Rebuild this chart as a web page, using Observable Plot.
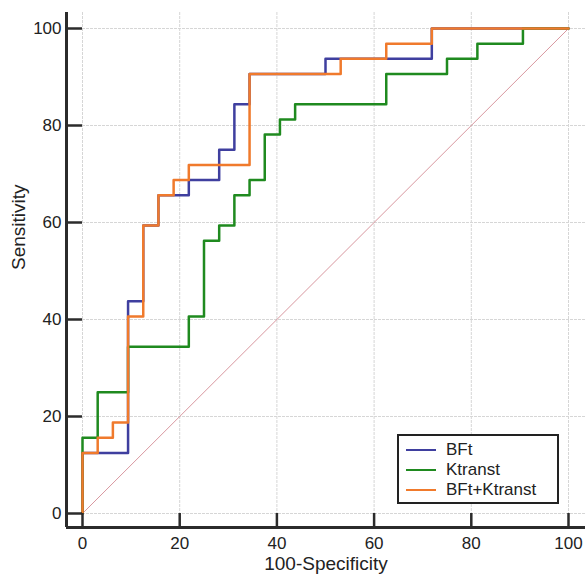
<!DOCTYPE html>
<html>
<head>
<meta charset="utf-8">
<script src="https://cdn.jsdelivr.net/npm/d3@7"></script>
<script src="https://cdn.jsdelivr.net/npm/@observablehq/plot@0.6"></script>
<style>
  html, body { margin: 0; padding: 0; background: #fff; }
  #wrap { position: relative; width: 585px; height: 578px; font-family: "Liberation Sans", Arial, sans-serif; }
  #legend { position: absolute; left: 397px; top: 434px; width: 158px; height: 66px; border: 2px solid #222; background: #fff; }
  .row { position: absolute; left: 0; height: 20px; display: flex; align-items: center; font-size: 17px; color: #222; }
  .sw { width: 30px; height: 0; border-top: 2.5px solid; margin-left: 7px; margin-right: 10px; }
</style>
</head>
<body>
<div id="wrap"></div>
<script>
// Tick labels
const xTicks = [0, 20, 40, 60, 80, 100];
const yTicks = [0, 20, 40, 60, 80, 100];

// Series names and colours
const seriesNames = ["BFt", "Ktranst", "BFt+Ktranst"];
const seriesColors = ["#3f3f9f", "#1f8a1f", "#f07a2c"];

// BFt: 100-Specificity / Sensitivity
const bftX = [0, 0, 9.375, 9.375, 12.5, 12.5, 15.625, 15.625, 21.875, 21.875, 28.125, 28.125, 31.25, 31.25, 34.375, 34.375, 50, 50, 71.875, 71.875, 100];
const bftY = [0, 12.5, 12.5, 43.75, 43.75, 59.375, 59.375, 65.625, 65.625, 68.75, 68.75, 75, 75, 84.375, 84.375, 90.625, 90.625, 93.75, 93.75, 100, 100];

// Ktranst
const ktX = [0, 0, 3.125, 3.125, 9.375, 9.375, 21.875, 21.875, 25, 25, 28.125, 28.125, 31.25, 31.25, 34.375, 34.375, 37.5, 37.5, 40.625, 40.625, 43.75, 43.75, 62.5, 62.5, 75, 75, 81.25, 81.25, 90.625, 90.625, 100];
const ktY = [0, 15.625, 15.625, 25, 25, 34.375, 34.375, 40.625, 40.625, 56.25, 56.25, 59.375, 59.375, 65.625, 65.625, 68.75, 68.75, 78.125, 78.125, 81.25, 81.25, 84.375, 84.375, 90.625, 90.625, 93.75, 93.75, 96.875, 96.875, 100, 100];

// BFt+Ktranst
const combX = [0, 0, 3.125, 3.125, 6.25, 6.25, 9.375, 9.375, 12.5, 12.5, 15.625, 15.625, 18.75, 18.75, 21.875, 21.875, 34.375, 34.375, 53.125, 53.125, 62.5, 62.5, 71.875, 71.875, 100];
const combY = [0, 12.5, 12.5, 15.625, 15.625, 18.75, 18.75, 40.625, 40.625, 59.375, 59.375, 65.625, 65.625, 68.75, 68.75, 71.875, 71.875, 90.625, 90.625, 93.75, 93.75, 96.875, 96.875, 100, 100];

// Reference diagonal
const diagX = [0, 100];
const diagY = [0, 100];

const toPts = (xs, ys) => xs.map((x, i) => ({x, y: ys[i]}));
const bft = toPts(bftX, bftY);
const kt = toPts(ktX, ktY);
const comb = toPts(combX, combY);
const diag = toPts(diagX, diagY);

const W = 585, H = 578;
const mL = 66, mR = 0, mT = 12, mB = 51;
const innerW = W - mL - mR, innerH = H - mT - mB;
const axisColor = "#2b2b2b";

const chart = Plot.plot({
  width: W,
  height: H,
  marginLeft: mL,
  marginRight: mR,
  marginTop: mT,
  marginBottom: mB,
  style: { fontFamily: "'Liberation Sans', Arial, sans-serif", background: "#fff", color: "#222" },
  x: { domain: [0, 100], insetLeft: 16, insetRight: 17 },
  y: { domain: [0, 100], insetTop: 16, insetBottom: 14 },
  marks: [
    Plot.gridX(xTicks, { stroke: "#d6d6d6", strokeOpacity: 1, strokeDasharray: "3,1" }),
    Plot.gridY(yTicks, { stroke: "#d6d6d6", strokeOpacity: 1, strokeDasharray: "3,1" }),
    Plot.line(diag, { x: "x", y: "y", stroke: "#d8979f", strokeWidth: 1 }),
    Plot.line(bft, { x: "x", y: "y", stroke: seriesColors[0], strokeWidth: 2.5 }),
    Plot.line(kt, { x: "x", y: "y", stroke: seriesColors[1], strokeWidth: 2.5 }),
    Plot.line(comb, { x: "x", y: "y", stroke: seriesColors[2], strokeWidth: 2.5 }),
    // inward ticks
    Plot.ruleX(xTicks, { x: d => d, stroke: axisColor, strokeWidth: 2.5, insetTop: innerH - 14 }),
    Plot.ruleY(yTicks, { y: d => d, stroke: axisColor, strokeWidth: 2.5, insetRight: innerW - 16 }),
    // axis lines
    Plot.ruleX([0], { x: d => d, dx: -16, stroke: axisColor, strokeWidth: 3 }),
    Plot.ruleY([0], { y: d => d, dy: 14, stroke: axisColor, strokeWidth: 3 }),
    Plot.axisX(xTicks, { tickSize: 0, tickPadding: 9, fontSize: 17, label: null, fill: "#222" }),
    Plot.axisY(yTicks, { tickSize: 0, tickPadding: 5, fontSize: 17, label: null, fill: "#222" }),
    Plot.text(["100-Specificity"], { frameAnchor: "bottom", dy: 42, fontSize: 19, fill: "#222", text: d => d }),
    Plot.text(["Sensitivity"], { frameAnchor: "left", dx: -48, rotate: -90, fontSize: 19, fill: "#222", text: d => d })
  ]
});

const wrap = document.getElementById("wrap");
wrap.appendChild(chart);

const legend = document.createElement("div");
legend.id = "legend";
seriesNames.forEach((name, i) => {
  const row = document.createElement("div");
  row.className = "row";
  row.style.top = (4 + i * 20) + "px";
  const sw = document.createElement("span");
  sw.className = "sw";
  sw.style.borderTopColor = seriesColors[i];
  const t = document.createElement("span");
  t.textContent = name;
  row.appendChild(sw);
  row.appendChild(t);
  legend.appendChild(row);
});
wrap.appendChild(legend);
</script>
</body>
</html>
